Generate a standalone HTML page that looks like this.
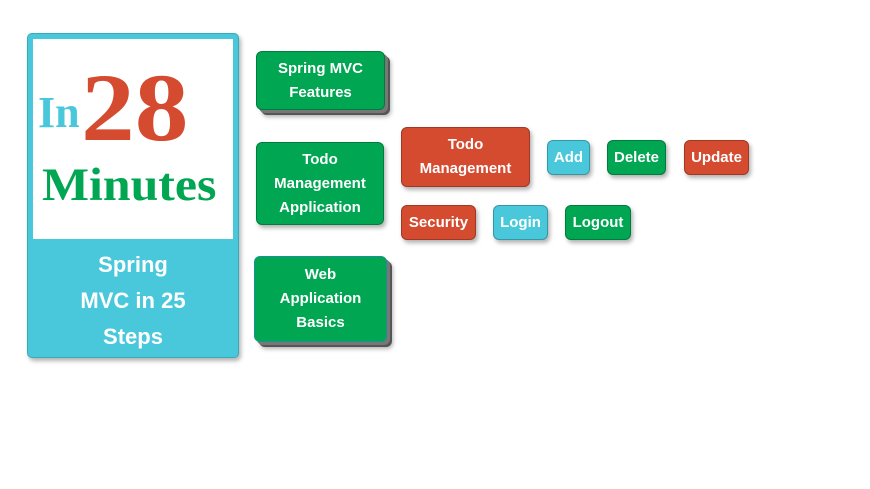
<!DOCTYPE html><html><head><style>
body{margin:0;width:870px;height:489px;background:#fff;position:relative;font-family:"Liberation Sans",sans-serif;overflow:hidden}
.b{position:absolute;box-sizing:border-box;border-radius:6px;color:#fff;font-weight:bold;display:flex;align-items:center;justify-content:center;text-align:center;border:1px solid rgba(0,0,0,0.25);box-shadow:2px 3px 4px rgba(0,0,0,0.3);font-size:15px;line-height:24px}
.g{background:#00a651}.r{background:#d54b30}.c{background:#4ac8db}
.st{box-shadow:3px 3px 0 #777,5px 5px 0 #555,6px 7px 4px rgba(0,0,0,.3)}
.s{position:absolute;font-family:'Liberation Serif',serif;font-weight:bold;transform-origin:0 0;white-space:nowrap}
</style></head><body>
<div style="position:absolute;left:27px;top:33px;width:212px;height:325px;background:#4ac8db;border:1px solid #3aa8b8;box-sizing:border-box;border-radius:5px;box-shadow:2px 3px 4px rgba(0,0,0,.3)"></div>
<div style="position:absolute;left:33px;top:39px;width:200px;height:200px;background:#fff"></div>
<div class="s" style="left:38px;top:88px;font-size:44px;line-height:50px;color:#4ac8db">In</div>
<div class="s" style="left:81px;top:58px;font-size:96px;line-height:100px;color:#d54b30;transform:scaleX(1.12)">28</div>
<div class="s" style="left:42px;top:157px;font-size:47px;line-height:56px;color:#00a651;transform:scaleX(1.06)">Minutes</div>
<div style="position:absolute;left:27px;top:247px;width:212px;text-align:center;color:#fff;font-weight:bold;font-size:22px;line-height:36px">Spring<br>MVC in 25<br>Steps</div>
<div class="b g st" style="left:256px;top:51px;width:129px;height:59px">Spring MVC<br>Features</div>
<div class="b g" style="left:256px;top:142px;width:128px;height:83px">Todo<br>Management<br>Application</div>
<div class="b g st" style="left:254px;top:256px;width:133px;height:86px;border:1.5px dotted #2a7fd4">Web<br>Application<br>Basics</div>
<div class="b r" style="left:401px;top:127px;width:129px;height:60px">Todo<br>Management</div>
<div class="b c" style="left:547px;top:140px;width:43px;height:35px">Add</div>
<div class="b g" style="left:607px;top:140px;width:59px;height:35px">Delete</div>
<div class="b r" style="left:684px;top:140px;width:65px;height:35px">Update</div>
<div class="b r" style="left:401px;top:205px;width:75px;height:35px">Security</div>
<div class="b c" style="left:493px;top:205px;width:55px;height:35px">Login</div>
<div class="b g" style="left:565px;top:205px;width:66px;height:35px">Logout</div>
</body></html>
